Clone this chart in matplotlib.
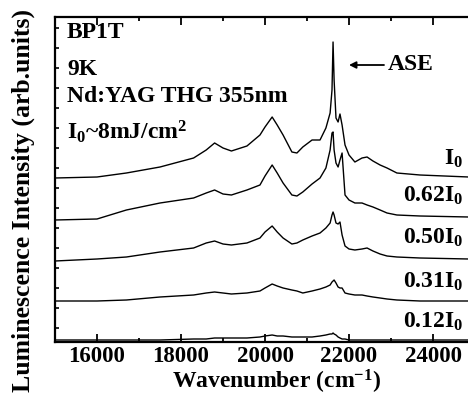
import numpy as np
import matplotlib
matplotlib.use("Agg")
import matplotlib.pyplot as plt
from matplotlib.ticker import MultipleLocator

plt.rcParams['font.family'] = ['Liberation Serif', 'DejaVu Serif']
plt.rcParams['font.weight'] = 'bold'
plt.rcParams['mathtext.fontset'] = 'custom'
plt.rcParams['mathtext.rm'] = 'Liberation Serif:bold'
plt.rcParams['mathtext.it'] = 'Liberation Serif:bold'
plt.rcParams['mathtext.bf'] = 'Liberation Serif:bold'

# wavenumber grid (cm^-1) shared by all spectra
wavenumber = [15000, 16000, 16700, 17500, 18300, 18600, 18800, 19000, 19200, 19570,
              19880, 20000, 20170, 20290, 20430, 20640, 20760, 20900, 21120, 21310,
              21450, 21550, 21595, 21620, 21645, 21690, 21740, 21785, 21835, 21905,
              22000, 22140, 22310, 22430, 22570, 22740, 22905, 23140, 23690, 24850]

# luminescence spectra, already stacked with vertical offsets
spec_100 = [7.50, 7.55, 7.75, 8.05, 8.50, 8.90, 9.25, 9.00, 8.85, 9.10,
            9.65, 10.05, 10.55, 10.15, 9.65, 8.80, 8.75, 9.05, 9.40, 9.40,
            10.00, 10.75, 11.90, 14.30, 12.40, 10.50, 10.30, 10.70, 10.15, 9.15,
            8.65, 8.30, 8.50, 8.55, 8.35, 8.15, 8.00, 7.75, 7.65, 7.55]
spec_062 = [5.40, 5.45, 5.90, 6.25, 6.50, 6.75, 6.90, 6.70, 6.65, 6.90,
            7.15, 7.60, 8.15, 7.75, 7.25, 6.65, 6.60, 6.80, 7.20, 7.50,
            8.00, 8.90, 9.75, 9.80, 8.90, 8.25, 8.05, 8.40, 8.75, 6.65,
            6.40, 6.25, 6.25, 6.15, 6.05, 5.90, 5.75, 5.65, 5.60, 5.55]
spec_050 = [3.35, 3.45, 3.55, 3.80, 4.00, 4.25, 4.35, 4.20, 4.15, 4.25,
            4.50, 4.80, 5.10, 4.80, 4.50, 4.20, 4.25, 4.40, 4.60, 4.75,
            5.00, 5.25, 5.65, 5.80, 5.65, 5.25, 5.20, 5.30, 4.65, 4.10,
            3.95, 3.90, 3.95, 4.00, 3.85, 3.70, 3.60, 3.55, 3.50, 3.45]
spec_031 = [1.35, 1.35, 1.40, 1.55, 1.65, 1.75, 1.80, 1.75, 1.70, 1.75,
            1.85, 2.00, 2.20, 2.10, 2.00, 1.90, 1.85, 1.75, 1.85, 1.95,
            2.05, 2.15, 2.30, 2.35, 2.40, 2.25, 2.05, 2.00, 2.00, 1.75,
            1.70, 1.65, 1.65, 1.60, 1.55, 1.50, 1.45, 1.40, 1.35, 1.35]
spec_012 = [-0.60, -0.60, -0.60, -0.60, -0.55, -0.55, -0.50, -0.50, -0.50, -0.50,
            -0.45, -0.40, -0.35, -0.40, -0.40, -0.45, -0.45, -0.45, -0.45, -0.40,
            -0.35, -0.30, -0.30, -0.25, -0.30, -0.35, -0.45, -0.50, -0.55, -0.55,
            -0.60, -0.60, -0.60, -0.60, -0.60, -0.60, -0.60, -0.60, -0.60, -0.60]

spectra = [spec_100, spec_062, spec_050, spec_031, spec_012]
labels = [r"I$_0$", r"0.62I$_0$", r"0.50I$_0$", r"0.31I$_0$", r"0.12I$_0$"]
label_y = [165, 202, 244, 288, 328]  # baseline of each label, pixels from top

W, H = 468, 397
fig = plt.figure(figsize=(W / 100, H / 100), dpi=100)


def fx(px):
    return px / W


def fy(py):
    return 1 - py / H


ax = fig.add_axes([fx(55), fy(342), fx(468) - fx(55), fy(17) - fy(342)])
for s in spectra:
    ax.plot(wavenumber, s, color='black', lw=1.0)

ax.set_xlim(15000, 24833)
ax.set_ylim(-0.7, 15.55)
ax.xaxis.set_major_locator(MultipleLocator(2000))
ax.xaxis.set_minor_locator(MultipleLocator(1000))
ax.yaxis.set_major_locator(MultipleLocator(1))
ax.tick_params(axis='x', which='both', direction='in', top=True, labelsize=16.5, pad=3)
ax.tick_params(axis='x', which='major', length=6, width=1.3)
ax.tick_params(axis='x', which='minor', length=3, width=1.3)
ax.tick_params(axis='y', which='major', direction='in', length=3, width=1.2,
               labelleft=False)
for lab in ax.get_xticklabels():
    lab.set_fontweight('bold')
for side in ('left', 'bottom', 'top'):
    ax.spines[side].set_linewidth(1.6)
ax.spines['right'].set_visible(False)

# sample / excitation notes
notes = ["BP1T", "9K", "Nd:YAG THG 355nm", r"I$_0$~8mJ/cm$^2$"]
notes_y = [38, 75, 102, 139]
for t, py in zip(notes, notes_y):
    fig.text(fx(67), fy(py), t, fontsize=17, fontweight='bold', va='baseline')

for t, py in zip(labels, label_y):
    fig.text(fx(463), fy(py), t, fontsize=17, fontweight='bold',
             ha='right', va='baseline')

# ASE marker
fig.text(fx(388), fy(70), "ASE", fontsize=17, fontweight='bold', va='baseline')
ax.annotate("", xy=(fx(349), fy(65)), xytext=(fx(384), fy(65)),
            xycoords='figure fraction', textcoords='figure fraction',
            arrowprops=dict(arrowstyle='-|>', color='black', lw=1.3,
                            mutation_scale=10, shrinkA=0, shrinkB=0))

fig.text(fx(277), fy(389), r"Wavenumber (cm$^{-1}$)", fontsize=17,
         fontweight='bold', ha='center', va='baseline')
fig.text(fx(23), fy(200), "Luminescence Intensity (arb.units)", fontsize=18.5,
         fontweight='bold', rotation=90, ha='center', va='center')

fig.savefig("out.png", dpi=100)
